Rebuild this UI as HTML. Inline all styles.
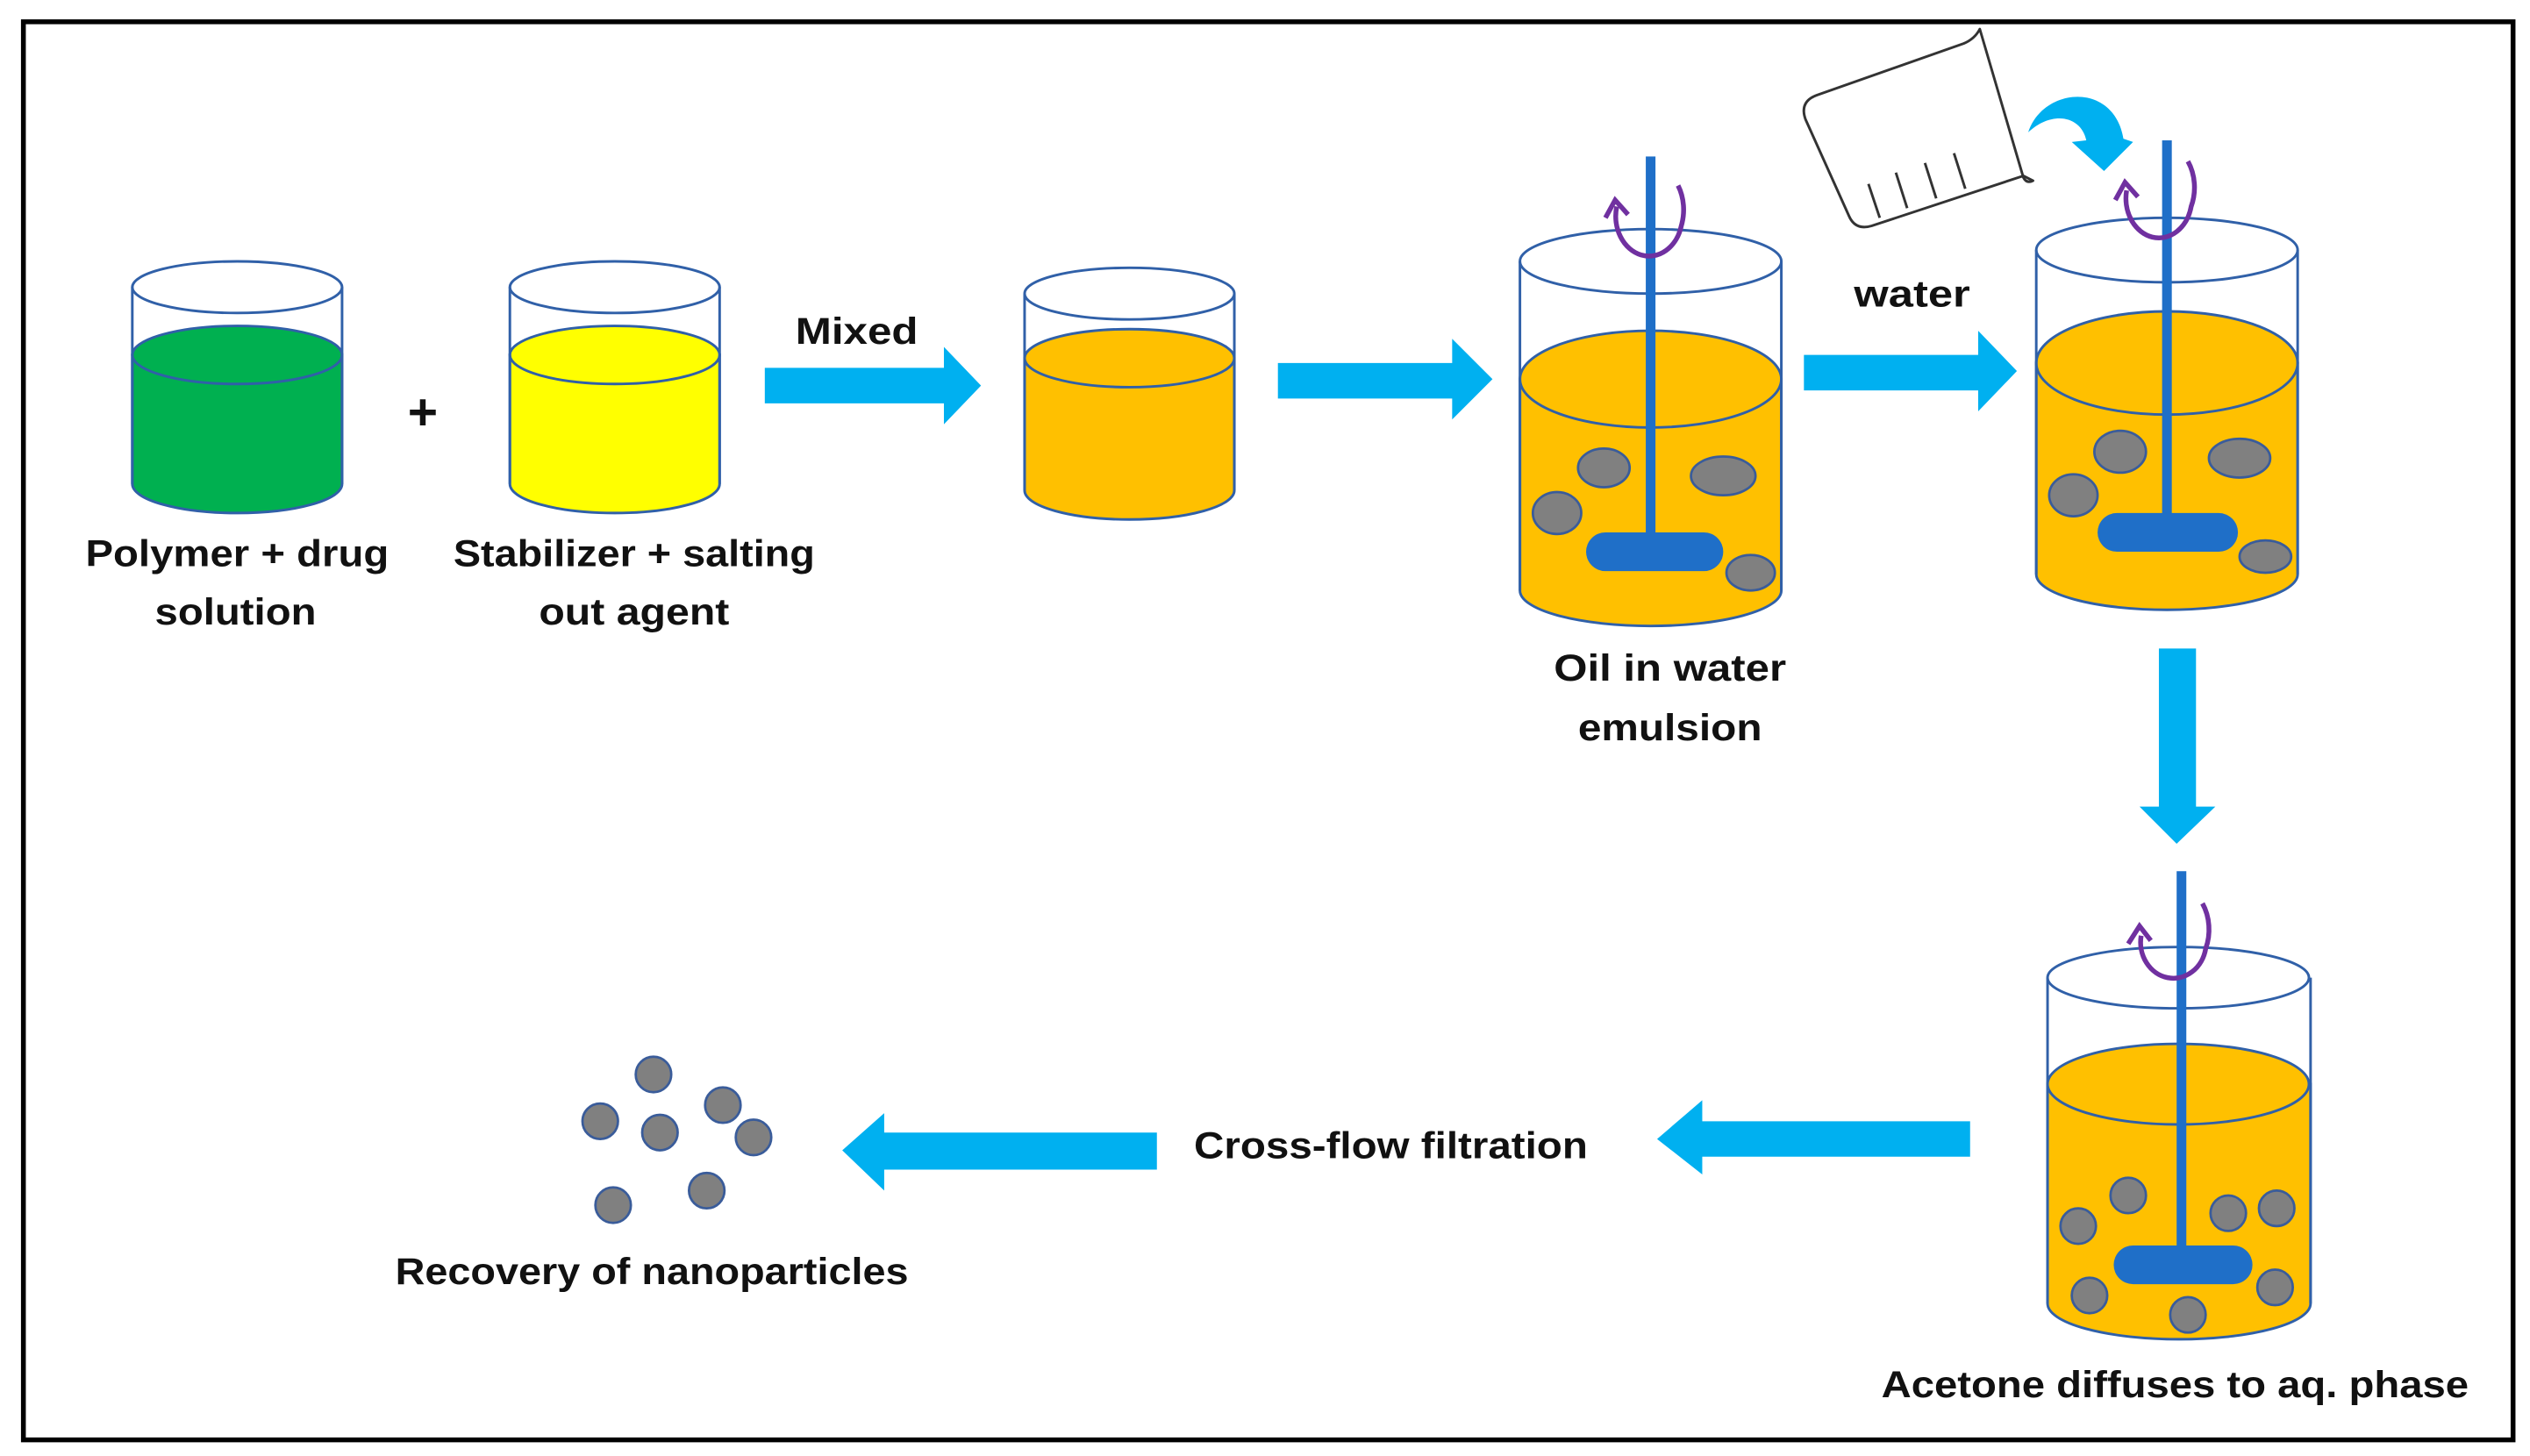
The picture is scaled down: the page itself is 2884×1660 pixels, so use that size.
<!DOCTYPE html>
<html><head><meta charset="utf-8"><style>
html,body{margin:0;padding:0;background:#fff;}
svg{display:block;}
text{font-family:"Liberation Sans",sans-serif;font-weight:bold;fill:#111;}
</style></head><body>
<svg width="2884" height="1660" viewBox="0 0 1568 902.5" preserveAspectRatio="none" xmlns="http://www.w3.org/2000/svg">
<rect x="0" y="0" width="1568" height="902.5" fill="#fff"/>
<rect x="14.5" y="13.5" width="1543" height="879" fill="none" stroke="#000" stroke-width="3"/>

<g stroke="#3060A8" stroke-width="1.6">
<path d="M82 220 L82 300 A65 18 0 0 0 212 300 L212 220 Z" fill="#00B050"/>
<ellipse cx="147" cy="220" rx="65" ry="18" fill="#00B050"/>
<ellipse cx="147" cy="178" rx="65" ry="16" fill="none"/>
<line x1="82" y1="178" x2="82" y2="300"/><line x1="212" y1="178" x2="212" y2="300"/>
<path d="M316 220 L316 300 A65 18 0 0 0 446 300 L446 220 Z" fill="#FFFF00"/>
<ellipse cx="381" cy="220" rx="65" ry="18" fill="#FFFF00"/>
<ellipse cx="381" cy="178" rx="65" ry="16" fill="none"/>
<line x1="316" y1="178" x2="316" y2="300"/><line x1="446" y1="178" x2="446" y2="300"/>
<path d="M635 222 L635 304 A65 18 0 0 0 765 304 L765 222 Z" fill="#FFC000"/>
<ellipse cx="700" cy="222" rx="65" ry="18" fill="#FFC000"/>
<ellipse cx="700" cy="182" rx="65" ry="16" fill="none"/>
<line x1="635" y1="182" x2="635" y2="304"/><line x1="765" y1="182" x2="765" y2="304"/>
<path d="M942 235 L942 366 A81 22 0 0 0 1104 366 L1104 235 Z" fill="#FFC000"/>
<ellipse cx="1023" cy="235" rx="81" ry="30" fill="#FFC000"/>
<ellipse cx="1023" cy="162" rx="81" ry="20" fill="none"/>
<line x1="942" y1="162" x2="942" y2="366"/><line x1="1104" y1="162" x2="1104" y2="366"/>
<path d="M1262 225 L1262 356 A81 22 0 0 0 1424 356 L1424 225 Z" fill="#FFC000"/>
<ellipse cx="1343" cy="225" rx="81" ry="32" fill="#FFC000"/>
<ellipse cx="1343" cy="155" rx="81" ry="20" fill="none"/>
<line x1="1262" y1="155" x2="1262" y2="356"/><line x1="1424" y1="155" x2="1424" y2="356"/>
<path d="M1269 672 L1269 808 A81 22 0 0 0 1432 808 L1432 672 Z" fill="#FFC000"/>
<ellipse cx="1350" cy="672" rx="81" ry="25" fill="#FFC000"/>
<ellipse cx="1350" cy="606" rx="81" ry="19" fill="none"/>
<line x1="1269" y1="606" x2="1269" y2="808"/><line x1="1432" y1="606" x2="1432" y2="808"/>
</g>

<g fill="#808080" stroke="#3A5C9A" stroke-width="1.5">
<ellipse cx="994" cy="290" rx="16" ry="12"/><ellipse cx="1068" cy="295" rx="20" ry="12"/>
<ellipse cx="965" cy="318" rx="15" ry="13"/><ellipse cx="1085" cy="355" rx="15" ry="11"/>
<ellipse cx="1314" cy="280" rx="16" ry="13"/><ellipse cx="1388" cy="284" rx="19" ry="12"/>
<ellipse cx="1285" cy="307" rx="15" ry="13"/><ellipse cx="1404" cy="345" rx="16" ry="10"/>
<circle cx="1288" cy="760" r="11"/><circle cx="1319" cy="741" r="11"/><circle cx="1381" cy="752" r="11"/>
<circle cx="1411" cy="749" r="11"/><circle cx="1295" cy="803" r="11"/><circle cx="1356" cy="815" r="11"/><circle cx="1410" cy="798" r="11"/>
<circle cx="405" cy="666" r="11"/><circle cx="372" cy="695" r="11"/><circle cx="409" cy="702" r="11"/>
<circle cx="448" cy="685" r="11"/><circle cx="467" cy="705" r="11"/><circle cx="380" cy="747" r="11"/><circle cx="438" cy="738" r="11"/>
</g>

<g fill="#1F6FC8">
<rect x="1020" y="97" width="6" height="243"/><rect x="983" y="330" width="85" height="24" rx="12"/>
<rect x="1340" y="87" width="6" height="235"/><rect x="1300" y="318" width="87" height="24" rx="12"/>
<rect x="1349" y="540" width="6" height="235"/><rect x="1310" y="772" width="86" height="24" rx="12"/>
</g>
<g fill="none" stroke="#7030A0" stroke-width="3">
<path d="M1002 128 A20 24 0 0 0 1042 140 A22 28 0 0 0 1040 115"/>
<path d="M995 135 L1001 124 L1009 133"/>
<path d="M1318 118 A20 24 0 0 0 1358 128 A22 28 0 0 0 1356 100"/>
<path d="M1311 124 L1317 113 L1325 122"/>
<path d="M1327 580 A20 22 0 0 0 1367 588 A22 28 0 0 0 1365 560"/>
<path d="M1319 585 L1326 574 L1333 583"/>
</g>

<g fill="#00B0F0">
<polygon points="474,228 585,228 585,215 608,239 585,263 585,250 474,250"/>
<polygon points="792,225 900,225 900,210 925,235 900,260 900,247 792,247"/>
<polygon points="1118,220 1226,220 1226,205 1250,230 1226,255 1226,242 1118,242"/>
<polygon points="1338,402 1361,402 1361,500 1373,500 1349,523 1326,500 1338,500"/>
<polygon points="1221,695 1055,695 1055,682 1027,706 1055,728 1055,717 1221,717"/>
<polygon points="717,702 548,702 548,690 522,713 548,738 548,725 717,725"/>
<path d="M1257 82 C1266 54 1310 50 1316 86 L1322 88 L1304 106 L1284 88 L1293 87 C1290 72 1272 68 1257 82 Z"/>
</g>

<g fill="#fff" stroke="#333" stroke-width="1.6" stroke-linejoin="round">
<path d="M1227 18 L1254 110 Q1256 114 1260 112 L1254 109 L1160 140 Q1150 143 1146 134 L1119 74 Q1115 63 1126 59 L1217 27 Q1224 24 1227 18 Z"/>
<path d="M1165 135 L1158 114 M1182 129 L1175 107 M1200 123 L1193 101 M1218 117 L1211 95" fill="none"/>
</g>

<g font-size="23">
<text x="262" y="266" text-anchor="middle" font-size="32">+</text>
<text x="147" y="351" text-anchor="middle" textLength="188" lengthAdjust="spacingAndGlyphs">Polymer + drug</text>
<text x="146" y="387" text-anchor="middle" textLength="100" lengthAdjust="spacingAndGlyphs">solution</text>
<text x="393" y="351" text-anchor="middle" textLength="224" lengthAdjust="spacingAndGlyphs">Stabilizer + salting</text>
<text x="393" y="387" text-anchor="middle" textLength="118" lengthAdjust="spacingAndGlyphs">out agent</text>
<text x="531" y="213" text-anchor="middle" textLength="76" lengthAdjust="spacingAndGlyphs">Mixed</text>
<text x="1185" y="190" text-anchor="middle" textLength="72" lengthAdjust="spacingAndGlyphs">water</text>
<text x="1035" y="422" text-anchor="middle" textLength="144" lengthAdjust="spacingAndGlyphs">Oil in water</text>
<text x="1035" y="459" text-anchor="middle" textLength="114" lengthAdjust="spacingAndGlyphs">emulsion</text>
<text x="862" y="718" text-anchor="middle" textLength="244" lengthAdjust="spacingAndGlyphs">Cross-flow filtration</text>
<text x="404" y="796" text-anchor="middle" textLength="318" lengthAdjust="spacingAndGlyphs">Recovery of nanoparticles</text>
<text x="1348" y="866" text-anchor="middle" textLength="364" lengthAdjust="spacingAndGlyphs">Acetone diffuses to aq. phase</text>
</g>
</svg>
</body></html>
